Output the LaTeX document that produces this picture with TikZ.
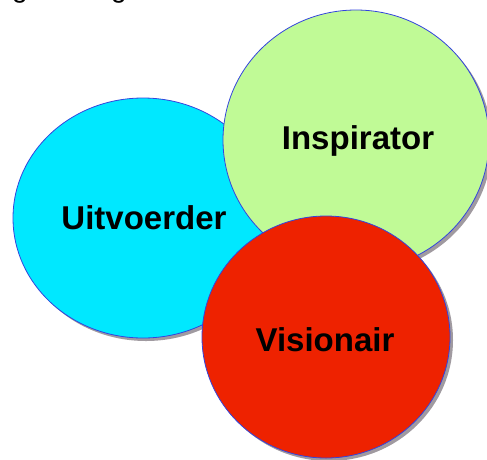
\documentclass[tikz,border=0pt]{standalone}
\usepackage{fontspec}
\setmainfont{Liberation Sans}
\definecolor{cyanfill}{HTML}{00E8FF}
\definecolor{greenfill}{HTML}{C0FA96}
\definecolor{redfill}{HTML}{EE2200}
\definecolor{edgeblue}{HTML}{3344DD}
\definecolor{shadowgray}{HTML}{A09AA0}
\tikzset{
  blob/.style={draw=edgeblue, line width=0.8pt},
  shade/.style={fill=shadowgray, draw=none},
  lbl/.style={font=\fontsize{33}{33}\selectfont\bfseries, inner sep=0pt, text=black},
  frag/.style={font=\fontsize{28}{28}\selectfont, inner sep=0pt, anchor=base, text=black}
}
\begin{document}
\begin{tikzpicture}[x=1pt,y=-1pt]
\useasboundingbox (0,0) rectangle (487,459);
% cut-off text fragments at top
\node[frag] (g1) at (20,-2.5) {g};
\node[frag] (g2) at (119,-2.5) {g};
% cyan
\fill[shade] (146,221) ellipse [x radius=130, y radius=120];
\filldraw[blob, fill=cyanfill] (143,218) ellipse [x radius=130, y radius=120];
% green
\fill[shade] (359,143) ellipse [x radius=133, y radius=130];
\filldraw[blob, fill=greenfill] (356,140) ellipse [x radius=133, y radius=130];
% red
\fill[shade] (329,340) ellipse [x radius=124, y radius=121];
\filldraw[blob, fill=redfill] (326,337) ellipse [x radius=124, y radius=121];
% labels
\node[lbl, anchor=base] (u) at (144,229) {Uitvoerder};
\node[lbl, anchor=base] (i) at (358,149) {Inspirator};
\node[lbl, anchor=base] (v) at (325,351) {Visionair};
\end{tikzpicture}
\end{document}
